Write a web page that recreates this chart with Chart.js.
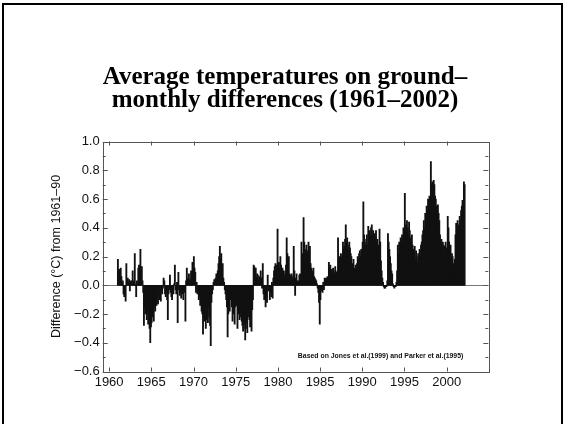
<!DOCTYPE html>
<html>
<head>
<meta charset="utf-8">
<script src="https://cdn.jsdelivr.net/npm/chart.js@4.4.1/dist/chart.umd.min.js"></script>
<style>
html, body { margin: 0; padding: 0; background: #fff; }
#wrap { position: relative; width: 566px; height: 424px; overflow: hidden; }
#frame { position: absolute; left: 2px; top: 3px; width: 557px; height: 440px; border: 2px solid #000; }
#title { position: absolute; left: 0; top: 64px; width: 566px; padding-left: 4px; box-sizing: border-box;
  text-align: center; font: bold 25px/23px "Liberation Serif", "Times New Roman", serif; color: #000; }
canvas { position: absolute; left: 0; top: 0; }
</style>
</head>
<body>
<div id="wrap">
  <div id="frame"></div>
  <canvas id="chart" width="566" height="424"></canvas>
  <div id="title">Average temperatures on ground&ndash;<br>monthly differences (1961&ndash;2002)</div>
</div>
<script>
// monthly temperature differences from the 1961-90 mean
var startYear = 1961;

var months1960s = [
  0.18, 0.10, 0.11, 0.09, 0.12, 0.06, 0.02, 0.03, -0.06, -0.08, -0.03, -0.11,   // 1961
  0.15, 0.04, 0.05, 0.02, 0.04, -0.04, 0.03, 0.01, 0.03, 0.10, 0.03, 0.02,       // 1962
  0.22, 0.01, -0.08, 0.03, 0.02, 0.12, 0.14, 0.13, 0.25, 0.10, 0.13, 0.03,       // 1963
  -0.05, -0.28, -0.16, -0.20, -0.15, -0.24, -0.18, -0.27, -0.21, -0.30, -0.40, -0.29, // 1964
  -0.26, -0.22, -0.17, -0.25, -0.15, -0.18, -0.12, -0.14, -0.09, -0.13, -0.06, -0.10, // 1965
  -0.08, -0.11, -0.04, -0.06, -0.02, 0.05, 0.03, -0.06, -0.08, -0.05, -0.10, -0.24,  // 1966
  -0.06, -0.03, 0.07, -0.05, -0.08, -0.10, -0.04, -0.06, 0.01, 0.14, -0.03, -0.06,   // 1967
  0.02, -0.26, 0.09, -0.03, -0.07, -0.05, -0.09, -0.02, -0.06, -0.10, -0.03, -0.05,  // 1968
  -0.25, 0.03, 0.12, 0.04, 0.05, 0.08, 0.04, 0.03, 0.10, 0.07, 0.16, 0.15          // 1969
];

var months1970s = [
  0.20, 0.12, 0.09, -0.05, 0.02, -0.06, -0.04, -0.10, -0.08, -0.14, -0.12, -0.18,   // 1970
  -0.20, -0.34, -0.22, -0.25, -0.18, -0.30, -0.24, -0.20, -0.26, -0.15, -0.22, -0.28, // 1971
  -0.42, -0.12, -0.06, -0.03, 0.02, 0.04, 0.01, 0.05, 0.08, 0.05, 0.10, 0.15,       // 1972
  0.20, 0.27, 0.18, 0.22, 0.13, 0.15, 0.05, 0.02, -0.03, -0.06, -0.10, -0.15,       // 1973
  -0.36, -0.20, -0.12, -0.18, -0.10, -0.08, -0.15, -0.25, -0.12, -0.20, -0.27, -0.15, // 1974
  -0.10, -0.14, -0.30, -0.20, -0.16, -0.24, -0.18, -0.22, -0.25, -0.28, -0.32, -0.30, // 1975
  -0.27, -0.38, -0.30, -0.26, -0.33, -0.22, -0.18, -0.24, -0.29, -0.20, -0.32, -0.17, // 1976
  -0.10, 0.14, 0.13, 0.10, 0.12, 0.05, 0.08, 0.07, 0.03, 0.06, 0.02, 0.10,         // 1977
  0.05, -0.02, 0.15, -0.06, -0.10, -0.05, -0.15, -0.08, -0.12, 0.07, -0.04, -0.03,  // 1978
  -0.10, -0.05, -0.08, 0.02, -0.09, 0.05, 0.10, 0.13, 0.15, 0.12, 0.14, 0.39        // 1979
];

var months1980s = [
  0.15, 0.16, 0.12, 0.20, 0.14, 0.08, 0.12, 0.03, 0.10, 0.06, 0.08, 0.14,   // 1980
  0.33, 0.22, 0.18, 0.20, 0.08, 0.05, 0.07, 0.08, 0.04, 0.06, 0.27, 0.10,   // 1981
  -0.07, 0.05, 0.08, 0.03, 0.02, 0.03, 0.07, 0.08, 0.05, 0.30, 0.12, 0.22,  // 1982
  0.47, 0.30, 0.25, 0.22, 0.28, 0.20, 0.24, 0.30, 0.18, 0.27, 0.15, 0.12,   // 1983
  0.10, 0.08, 0.12, 0.06, 0.05, 0.04, 0.03, 0.01, -0.02, -0.05, -0.12, -0.27, // 1984
  -0.10, -0.04, -0.02, -0.05, 0.02, -0.03, 0.05, 0.04, 0.05, 0.02, 0.06, 0.04, // 1985
  0.16, 0.12, 0.14, 0.10, 0.11, 0.09, 0.12, 0.10, 0.08, 0.13, 0.06, 0.09,   // 1986
  0.10, 0.33, 0.18, 0.20, 0.17, 0.22, 0.19, 0.21, 0.30, 0.25, 0.27, 0.32,   // 1987
  0.42, 0.30, 0.33, 0.28, 0.25, 0.30, 0.26, 0.22, 0.20, 0.15, 0.10, 0.18,   // 1988
  0.12, 0.10, 0.14, 0.11, 0.15, 0.20, 0.18, 0.22, 0.24, 0.20, 0.25, 0.22    // 1989
];

var months1990s = [
  0.30, 0.58, 0.35, 0.32, 0.28, 0.30, 0.35, 0.28, 0.41, 0.36, 0.38, 0.34,   // 1990
  0.40, 0.42, 0.35, 0.38, 0.30, 0.36, 0.33, 0.38, 0.30, 0.32, 0.25, 0.28,   // 1991
  0.39, 0.30, 0.17, 0.10, 0.05, 0.02, -0.01, -0.02, -0.02, 0.00, -0.01, 0.03, // 1992
  0.36, 0.30, 0.25, 0.20, 0.15, 0.10, 0.08, 0.01, -0.01, -0.02, 0.00, -0.01,  // 1993
  0.02, 0.10, 0.28, 0.22, 0.30, 0.26, 0.33, 0.30, 0.35, 0.32, 0.40, 0.36,   // 1994
  0.64, 0.42, 0.38, 0.45, 0.40, 0.35, 0.44, 0.38, 0.33, 0.30, 0.35, 0.28,   // 1995
  0.25, 0.22, 0.27, 0.18, 0.24, 0.20, 0.16, 0.22, 0.18, 0.25, 0.20, 0.28,   // 1996
  0.30, 0.35, 0.38, 0.45, 0.40, 0.50, 0.48, 0.55, 0.52, 0.60, 0.58, 0.62,   // 1997
  0.58, 0.86, 0.70, 0.72, 0.65, 0.73, 0.70, 0.62, 0.60, 0.55, 0.52, 0.56,   // 1998
  0.50, 0.45, 0.35, 0.30, 0.32, 0.26, 0.30, 0.28, 0.22, 0.27, 0.30, 0.26    // 1999
];

var months2000s = [
  0.25, 0.48, 0.40, 0.30, 0.25, 0.28, 0.18, 0.22, 0.20, 0.15, 0.12, 0.18,   // 2000
  0.35, 0.43, 0.38, 0.45, 0.40, 0.42, 0.48, 0.45, 0.52, 0.55, 0.59, 0.50,   // 2001
  0.72, 0.70                                                               // 2002
];

var yearTicks = [1960, 1965, 1970, 1975, 1980, 1985, 1990, 1995, 2000];
var tempTicks = [-0.6, -0.4, -0.2, 0.0, 0.2, 0.4, 0.6, 0.8, 1.0];

var monthly = [].concat(months1960s, months1970s, months1980s, months1990s, months2000s);
var points = monthly.map(function(v, i) {
    return { x: startYear + (i + 0.5) / 12, y: v };
});

var sans = 'Liberation Sans, Arial, Helvetica, sans-serif';

// frame, inward ticks, zero line and source note
var framePlugin = {
    id: 'frame',
    beforeDatasetsDraw: function(chart) {
        var ctx = chart.ctx, a = chart.chartArea;
        var y0 = Math.round(chart.scales.y.getPixelForValue(0)) + 0.5;
        ctx.save();
        ctx.strokeStyle = '#777';
        ctx.lineWidth = 1;
        ctx.beginPath();
        ctx.moveTo(a.left, y0);
        ctx.lineTo(a.right, y0);
        ctx.stroke();
        ctx.restore();
    },
    afterDraw: function(chart) {
        var ctx = chart.ctx, a = chart.chartArea;
        var xs = chart.scales.x, ys = chart.scales.y;
        ctx.save();
        ctx.strokeStyle = '#555';
        ctx.lineWidth = 1;
        ctx.strokeRect(Math.round(a.left) + 0.5, Math.round(a.top) + 0.5,
            Math.round(a.right - a.left), Math.round(a.bottom - a.top));
        ctx.beginPath();
        for (var i = -6; i <= 10; i++) {
            var py = Math.round(ys.getPixelForValue(i / 10)) + 0.5;
            var len = (i % 2 === 0) ? 5 : 3;
            ctx.moveTo(a.left, py); ctx.lineTo(a.left + len, py);
            ctx.moveTo(a.right, py); ctx.lineTo(a.right - len, py);
        }
        yearTicks.forEach(function(yr) {
            var px = Math.round(xs.getPixelForValue(yr)) + 0.5;
            ctx.moveTo(px, a.top); ctx.lineTo(px, a.top + 4);
            ctx.moveTo(px, a.bottom); ctx.lineTo(px, a.bottom - 4);
        });
        ctx.stroke();
        ctx.fillStyle = '#111';
        ctx.font = 'bold 6.9px ' + sans;
        ctx.textAlign = 'right';
        ctx.textBaseline = 'middle';
        ctx.fillText('Based on Jones et al.(1999) and Parker et al.(1995)', a.right - 25, a.bottom - 15.5);
        ctx.restore();
    }
};

window.onload = function() {
    var ctx = document.getElementById('chart');
    window.myBar = new Chart(ctx, {
        type: 'bar',
        data: {
            datasets: [{
                label: 'Difference',
                data: points,
                backgroundColor: '#111',
                borderWidth: 0,
                barThickness: 1.2
            }]
        },
        options: {
            responsive: false,
            animation: false,
            layout: {
                padding: { left: 42.7, right: 77.7, top: 141.5, bottom: 22.5 }
            },
            plugins: {
                legend: { display: false },
                tooltip: { enabled: false },
                title: { display: false }
            },
            scales: {
                x: {
                    type: 'linear',
                    min: 1959.24,
                    max: 2004.93,
                    offset: false,
                    grid: { display: false, drawTicks: false },
                    border: { display: false },
                    afterBuildTicks: function(s) {
                        s.ticks = yearTicks.map(function(v) { return { value: v }; });
                    },
                    afterFit: function(s) { s.height = 30; },
                    ticks: {
                        padding: 3,
                        color: '#111',
                        autoSkip: false,
                        maxRotation: 0,
                        font: { family: sans, size: 13 },
                        callback: function(v) { return String(v); }
                    }
                },
                y: {
                    min: -0.6,
                    max: 1.0,
                    grid: { display: false, drawTicks: false },
                    border: { display: false },
                    afterBuildTicks: function(s) {
                        s.ticks = tempTicks.map(function(v) { return { value: v }; });
                    },
                    afterFit: function(s) { s.width = 60; },
                    ticks: {
                        padding: 3,
                        color: '#111',
                        font: { family: sans, size: 13 },
                        callback: function(v) { return v.toFixed(1).replace('-', '\u2212'); }
                    },
                    title: {
                        display: true,
                        text: 'Difference (\u00B0C) from 1961\u201390',
                        color: '#111',
                        font: { family: sans, size: 12.5 },
                        padding: { top: 6, bottom: 0 }
                    }
                }
            }
        },
        plugins: [framePlugin]
    });
};
</script>
</body>
</html>
